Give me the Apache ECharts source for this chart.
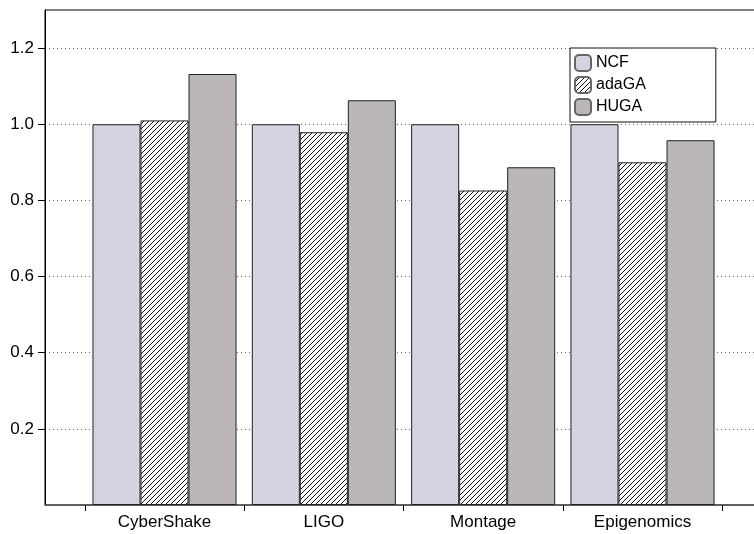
<!DOCTYPE html>
<html>
<head>
<meta charset="utf-8">
<script src="https://cdn.jsdelivr.net/npm/echarts@6/dist/echarts.min.js"></script>
<style>
  html, body { margin: 0; padding: 0; background: #fff; }
  #chart { width: 754px; height: 534px; }
</style>
</head>
<body>
<div id="chart"></div>
<script>
var categories = ["CyberShake", "LIGO", "Montage", "Epigenomics"];
var seriesNames = ["NCF", "adaGA", "HUGA"];
var ncfValues = [1.0, 1.0, 1.0, 1.0];
var adaGAValues = [1.01, 0.979, 0.826, 0.9];
var hugaValues = [1.132, 1.063, 0.887, 0.958];
var yTickValues = [0.2, 0.4, 0.6, 0.8, 1.0, 1.2];

// hatch pattern for adaGA
function makeHatch() {
  var s = 5;
  var c = document.createElement("canvas");
  c.width = s;
  c.height = s;
  var ctx = c.getContext("2d");
  ctx.fillStyle = "#fff";
  ctx.fillRect(0, 0, s, s);
  ctx.strokeStyle = "#111";
  ctx.lineWidth = 1;
  ctx.beginPath();
  ctx.moveTo(0, s); ctx.lineTo(s, 0);
  ctx.moveTo(-1, 1); ctx.lineTo(1, -1);
  ctx.moveTo(s - 1, s + 1); ctx.lineTo(s + 1, s - 1);
  ctx.stroke();
  return c;
}

function toPairs(vals) {
  return vals.map(function (v, i) { return [i, v]; });
}

var fonts = "'Liberation Sans', Arial, sans-serif";
var barBorder = { borderColor: "#222", borderWidth: 1 };

var myChart = echarts.init(document.getElementById("chart"));
var fills = ["#d4d4e0", { image: makeHatch(), repeat: "repeat" }, "#bbb6b7"];
var valueSets = [ncfValues, adaGAValues, hugaValues];

var option = {
  animation: false,
  grid: {
    left: 45,
    top: 10,
    width: 717,
    height: 495,
    outerBoundsMode: "none",
    show: true,
    borderColor: "#000",
    borderWidth: 1
  },
  legend: {
    orient: "vertical",
    left: 570,
    top: 48,
    data: seriesNames,
    itemWidth: 16,
    itemHeight: 16,
    itemGap: 4,
    padding: [6, 70, 6, 4],
    backgroundColor: "#fff",
    borderColor: "#111",
    borderWidth: 1,
    borderRadius: 0,
    icon: "roundRect",
    itemStyle: { borderColor: "#666" },
    textStyle: { fontFamily: fonts, fontSize: 16, color: "#000", padding: [0, 0, 0, 0] }
  },
  xAxis: {
    type: "value",
    position: "bottom",
    min: -0.75,
    max: 3.75,
    splitLine: { show: false },
    axisLine: { show: true, onZero: false, lineStyle: { color: "#555", width: 1.5 } },
    axisTick: {
      show: true,
      inside: false,
      length: 6,
      lineStyle: { color: "#000" },
      customValues: [-0.5, 0.5, 1.5, 2.5, 3.5]
    },
    axisLabel: {
      customValues: [0, 1, 2, 3],
      formatter: function (v) { return categories[Math.round(v)]; },
      fontFamily: fonts,
      fontSize: 17,
      color: "#000",
      margin: 9
    }
  },
  yAxis: {
    type: "value",
    position: "left",
    min: 0,
    max: 1.3,
    axisLine: { show: true, onZero: false, lineStyle: { color: "#000", width: 1 } },
    axisTick: {
      show: true,
      inside: false,
      length: 7,
      lineStyle: { color: "#000" },
      customValues: yTickValues
    },
    axisLabel: {
      customValues: yTickValues,
      formatter: function (v) { return v.toFixed(1); },
      fontFamily: fonts,
      fontSize: 17,
      color: "#000",
      margin: 11
    },
    splitLine: {
      show: true,
      lineStyle: { color: "#666", type: [1, 3], width: 1 }
    }
  },
  series: seriesNames.map(function (name, k) {
    return {
      name: name,
      type: "bar",
      data: toPairs(valueSets[k]),
      barGap: "0%",
      barCategoryGap: "9.6%",
      itemStyle: Object.assign({ color: fills[k] }, barBorder)
    };
  })
};

myChart.setOption(option);
</script>
</body>
</html>
